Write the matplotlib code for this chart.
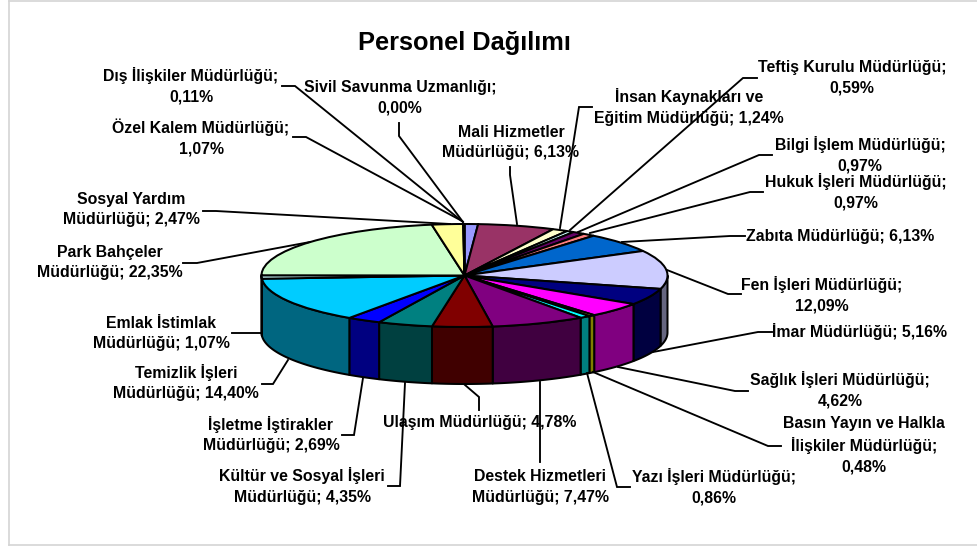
import numpy as np
import matplotlib
matplotlib.use("Agg")
import matplotlib.pyplot as plt
from matplotlib.lines import Line2D
from matplotlib.transforms import Affine2D
from matplotlib.colors import to_rgb

W, H = 978, 546
plt.rcParams['font.family'] = ['Liberation Sans', 'DejaVu Sans']

title = "Personel Dağılımı"
values = [1.07, 6.13, 1.24, 0.59, 0.97, 0.97, 6.13, 12.09, 5.16, 4.62, 0.48,
          0.86, 7.47, 4.78, 4.35, 2.69, 14.40, 1.07, 22.35, 2.47, 0.11, 0.00]
labels = ["Özel Kalem Müdürlüğü;\n1,07%",
          "Mali Hizmetler\nMüdürlüğü; 6,13%",
          "İnsan Kaynakları ve\nEğitim Müdürlüğü; 1,24%",
          "Teftiş Kurulu Müdürlüğü;\n0,59%",
          "Bilgi İşlem Müdürlüğü;\n0,97%",
          "Hukuk İşleri Müdürlüğü;\n0,97%",
          "Zabıta Müdürlüğü; 6,13%",
          "Fen İşleri Müdürlüğü;\n12,09%",
          "İmar Müdürlüğü; 5,16%",
          "Sağlık İşleri Müdürlüğü;\n4,62%",
          "Basın Yayın ve Halkla\nİlişkiler Müdürlüğü;\n0,48%",
          "Yazı İşleri Müdürlüğü;\n0,86%",
          "Destek Hizmetleri\nMüdürlüğü; 7,47%",
          "Ulaşım Müdürlüğü; 4,78%",
          "Kültür ve Sosyal İşleri\nMüdürlüğü; 4,35%",
          "İşletme İştirakler\nMüdürlüğü; 2,69%",
          "Temizlik İşleri\nMüdürlüğü; 14,40%",
          "Emlak İstimlak\nMüdürlüğü; 1,07%",
          "Park Bahçeler\nMüdürlüğü; 22,35%",
          "Sosyal Yardım\nMüdürlüğü; 2,47%",
          "Dış İlişkiler Müdürlüğü;\n0,11%",
          "Sivil Savunma Uzmanlığı;\n0,00%"]
colors = ["#9999FF", "#993366", "#FFFFCC", "#CCFFFF", "#660066", "#FF8080",
          "#0066CC", "#CCCCFF", "#000080", "#FF00FF", "#FFFF00", "#00FFFF",
          "#800080", "#800000", "#008080", "#0000FF", "#00CCFF", "#CCFFFF",
          "#CCFFCC", "#FFFF99", "#99CCFF", "#FF99CC"]

# Layout, in reference pixels
cx, cy, rx, ry, depth_px = 464.5, 275.5, 203.0, 51.5, 57.0
label_centres = [(201, 137.5), (511, 142.5), (689, 107), (852, 77.5), (860, 155),
                 (856, 192), (840, 236), (822, 295), (860, 332), (840, 390),
                 (864, 445.5), (714, 487), (540, 487), (480, 423), (302, 486),
                 (271, 434.5), (186, 382.5), (161, 333.5), (110, 262.5),
                 (131, 209.5), (191, 86), (400, 98)]
leaders = [[(293, 137), (306, 137), (462, 221)],
           [(510, 167), (510, 175), (517, 224)],
           [(592, 107), (579, 107), (560, 228)],
           [(757, 78), (743, 78), (570, 230)],
           [(772, 155), (759, 155), (578, 232)],
           [(763, 192), (750, 192), (590, 233)],
           [(745, 236), (730, 236), (622, 242)],
           [(741, 294), (728, 294), (667, 270)],
           [(772, 332), (758, 332), (653, 352)],
           [(748, 391), (735, 391), (618, 367)],
           [(781, 446), (768, 446), (593, 372)],
           [(630, 487), (617, 487), (587, 373)],
           [(540, 462), (540, 382)],
           [(479, 410), (479, 397), (465, 385)],
           [(388, 486), (400, 486), (405, 383)],
           [(342, 435), (354, 435), (363, 378)],
           [(262, 384), (273, 384), (288, 360)],
           [(232, 333), (262, 333)],
           [(183, 263), (197, 263), (310, 242)],
           [(203, 211), (216, 211), (450, 224)],
           [(282, 86), (295, 86), (463, 222)],
           [(399, 123), (399, 136), (463, 222)]]

fig = plt.figure(figsize=(W / 100, H / 100), dpi=100, facecolor="white")
ax = fig.add_axes([0, 0, 1, 1])
pix = Affine2D().scale(1 / W, -1 / H).translate(0, 1) + fig.transFigure
EDGE = 1.45

# Front wall: darker shade of every slice, between the two rim arcs
depth = depth_px / ry
cum = np.concatenate([[0], np.cumsum(values)]) / np.sum(values) * 360
for i, col in enumerate(colors):
    a, b = max(cum[i], 90), min(cum[i + 1], 270)
    if b <= a:
        continue
    t = np.radians(np.linspace(a, b, 60))
    x, y = np.sin(t), np.cos(t)
    ax.fill(np.r_[x, x[::-1]], np.r_[y, y[::-1] - depth],
            facecolor=tuple(c * 0.5 for c in to_rgb(col)),
            edgecolor="black", linewidth=EDGE, joinstyle="round", zorder=1)

# Top face: the pie, squashed by the axes' own scales
ax.pie(values, colors=colors, startangle=90, counterclock=False, radius=1,
       wedgeprops=dict(edgecolor="black", linewidth=EDGE, zorder=2))
ax.set_aspect("auto")
ax.set_xlim(-cx / rx, (W - cx) / rx)
ax.set_ylim((cy - H) / ry, cy / ry)

# Chart frame
for pts in ([(8.5, 0.5), (8.5, 545)], [(8.5, 0.5), (977, 0.5)], [(8.5, 545), (978, 545)]):
    fig.add_artist(Line2D(*zip(*pts), color="#D4D4D4", lw=1.2, transform=pix))

for pts in leaders:
    fig.add_artist(Line2D(*zip(*pts), color="black", lw=1.35, transform=pix,
                          solid_joinstyle="miter", zorder=3))

for text, (x, y) in zip(labels, label_centres):
    fig.text(x, y, text, transform=pix, ha="center", va="center", ma="center",
             fontsize=11.4, fontweight="bold", color="black", linespacing=1.44, zorder=4)

fig.text(464.5, 43, title, transform=pix, ha="center", va="center",
         fontsize=18.3, fontweight="bold", color="black", zorder=4)

fig.savefig("out.png", dpi=100)
